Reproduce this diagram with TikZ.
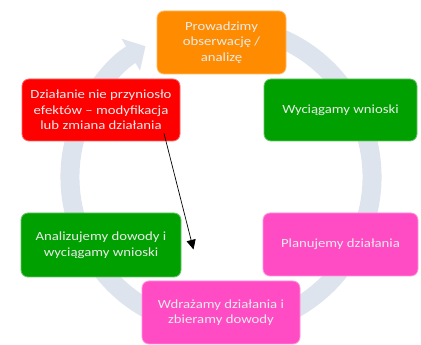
\documentclass[tikz,border=0pt]{standalone}
\usepackage{fontspec}
\setmainfont{Carlito}[FakeStretch=1.18]
\usetikzlibrary{arrows.meta}
\definecolor{ringblue}{HTML}{DDE4EE}
\definecolor{boxorange}{HTML}{FF8C00}
\definecolor{boxgreen}{HTML}{00A000}
\definecolor{boxred}{HTML}{FF0000}
\definecolor{boxpink}{HTML}{FF4CC4}
\tikzset{
  stagebox/.style={
    rounded corners=7pt,
    minimum height=63pt,
    text=white!92!black,
    font=\fontsize{12.5}{15.5}\selectfont,
    align=center,
    inner sep=3pt,
    line width=0.8pt
  },
  ring/.style={
    draw=ringblue,
    line width=19pt,
    -{Triangle[width=36pt,length=17pt]}
  },
  arrow/.style={
    -{Triangle[length=3.4mm,width=3.2mm]},
    draw=black,
    line width=0.7pt
  }
}
\begin{document}
\begin{tikzpicture}[x=1pt,y=1pt]
  \useasboundingbox (0,0) rectangle (421,345);
  \fill[white] (0,0) rectangle (421,345);

  \coordinate (hub) at (221,168);
  \draw[ring] ([shift={(70:151)}]hub) arc[start angle=70, end angle=-240, radius=151];

  \node[stagebox, fill=boxorange, draw=boxorange!60!white, minimum width=129pt] (observe) at (221.5,302.5)
    {Prowadzimy\\obserwację /\\analizę};
  \node[stagebox, fill=boxgreen, draw=boxgreen!60!white, minimum width=153pt, minimum height=62pt] (conclude) at (340.5,235)
    {Wyciągamy wnioski};
  \node[stagebox, fill=boxpink, draw=boxpink!60!white, minimum width=155pt] (plan) at (340.5,100.5)
    {Planujemy działania};
  \node[stagebox, fill=boxpink, draw=boxpink!60!white, minimum width=158pt] (implement) at (221,32.5)
    {Wdrażamy działania i\\zbieramy dowody};
  \node[stagebox, fill=boxgreen, draw=boxgreen!60!white, minimum width=160pt, minimum height=64pt] (evidence) at (101,100)
    {Analizujemy dowody i\\wyciągamy wnioski};
  \node[stagebox, fill=boxred, draw=boxred!60!white, minimum width=158pt, minimum height=62pt] (modify) at (101,235)
    {Działanie nie przyniosło\\efektów – modyfikacja\\lub zmiana działania};

  \coordinate (start) at ([xshift=63pt,yshift=8pt]modify.south);
  \coordinate (stop) at (193.5,95.5);
  \draw[arrow] (start) -- (stop);
\end{tikzpicture}
\end{document}
